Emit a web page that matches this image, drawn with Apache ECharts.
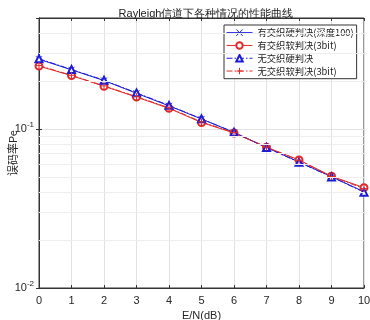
<!DOCTYPE html>
<html><head><meta charset="utf-8">
<script src="https://cdn.jsdelivr.net/npm/echarts@6/dist/echarts.min.js"></script>
<style>html,body{margin:0;padding:0;background:#fff}#c{width:370px;height:320px}</style>
</head><body><div id="c"></div>
<script>
var snr = [0,1,2,3,4,5,6,7,8,9,10];
var hardInter = [0.275,0.236,0.202,0.168,0.140,0.1157,0.0953,0.0766,0.0621,0.0502,0.0403];
var softInter = [0.249,0.217,0.186,0.159,0.135,0.110,0.0945,0.0768,0.0640,0.0505,0.0428];
var hardNo = [0.277,0.237,0.203,0.169,0.141,0.1160,0.0955,0.0765,0.0618,0.0500,0.0401];
var softNo = [0.251,0.218,0.187,0.160,0.136,0.111,0.0950,0.0770,0.0636,0.0503,0.0422];
var seriesNames = ['有交织硬判决(深度100)','有交织软判决(3bit)','无交织硬判决','无交织软判决(3bit)'];
var minorGrid = [0.02,0.03,0.04,0.05,0.06,0.07,0.08,0.09,0.2,0.3,0.4];
var yMin = 0.01, yMax = 0.5;

var BLUE = '#1c1cd6', RED = '#e02a2a';
var crossPath = 'path://M0,0L10,10M10,0L0,10';
var plusPath = 'path://M5,0L5,10M0,5L10,5';
var dashDot = [6,2,1.5,2];

function mk(name, data, color, symbol, dash, size){
  return {
    name: name, type: 'line', data: snr.map(function(x,i){return [x, data[i]];}),
    symbol: symbol, symbolSize: size, showSymbol: true,
    lineStyle: {color: color, width: 1, type: dash},
    itemStyle: {color: (symbol.indexOf('path')===0 ? 'rgba(0,0,0,0)' : color), borderColor: color, borderWidth: 1},
    emphasis: {disabled: true}, animation: false, z: 3
  };
}
var series = [
  mk(seriesNames[0], hardInter, BLUE, crossPath, 'solid', 6),
  mk(seriesNames[1], softInter, RED, 'emptyCircle', 'solid', 7),
  mk(seriesNames[2], hardNo, BLUE, 'emptyTriangle', dashDot, 7),
  mk(seriesNames[3], softNo, RED, plusPath, dashDot, 7)
];
series[0].markLine = {
  silent: true, symbol: 'none', label: {show: false}, animation: false,
  lineStyle: {color: '#eeeeee', type: 'solid', width: 1},
  data: minorGrid.map(function(v){return {yAxis: v};})
};

var chart = echarts.init(document.getElementById('c'), null, {renderer: 'canvas'});
var font = 'Liberation Sans, Arial, sans-serif';
var cjk = '"Noto Sans CJK SC", sans-serif';
chart.setOption({
  backgroundColor: '#fff',
  animation: false,
  title: {text: 'Rayleigh信道下各种情况的性能曲线', left: 201, top: 3, textAlign: 'center',
    textStyle: {fontSize: 11, fontWeight: 'normal', color: '#222', fontFamily: font}},
  grid: {left: 39, right: 6, top: 18, bottom: 32, show: true, borderColor: '#333', borderWidth: 1,
    backgroundColor: '#fff', containLabel: false, outerBoundsMode: 'none'},
  legend: {
    orient: 'vertical', left: 224, top: 25, data: seriesNames,
    itemWidth: 26, itemHeight: 8, itemGap: 3.5,
    padding: [3, 3, 3, 2],
    borderColor: '#333', borderWidth: 1, backgroundColor: '#fff',
    lineStyle: {width: 1},
    itemStyle: {borderWidth: 1},
    textStyle: {fontSize: 9.3, color: '#222', fontFamily: cjk}
  },
  xAxis: [{
    type: 'value', min: 0, max: 10, interval: 1,
    name: 'E/N(dB)', nameLocation: 'middle', nameGap: 19,
    nameTextStyle: {fontSize: 11, color: '#262626', fontFamily: font},
    axisLine: {show: true, lineStyle: {color: '#333'}},
    axisTick: {show: true, inside: true, length: 3, lineStyle: {color: '#333'}},
    axisLabel: {fontSize: 11, color: '#262626', margin: 7, fontFamily: font},
    splitLine: {show: true, lineStyle: {color: '#e2e2e2'}}
  },{
    type: 'value', min: 0, max: 10, interval: 1, position: 'top',
    axisLine: {show: true, lineStyle: {color: '#333'}},
    axisTick: {show: true, inside: true, length: 3, lineStyle: {color: '#333'}},
    axisLabel: {show: false}, splitLine: {show: false}
  }],
  yAxis: [{
    type: 'log', logBase: 10, min: yMin, max: yMax,
    name: '误码率Pe', nameLocation: 'middle', nameGap: 21, nameRotate: 90, nameMoveOverlap: false,
    nameTextStyle: {fontSize: 11, color: '#262626', fontFamily: cjk},
    axisLine: {show: true, lineStyle: {color: '#333'}},
    axisTick: {show: true, inside: true, length: 3, lineStyle: {color: '#333'}},
    axisLabel: {
      fontSize: 11, color: '#262626', margin: 5, fontFamily: font,
      formatter: function(v){
        var e = Math.log10(v); var r = Math.round(e);
        if (Math.abs(e - r) > 1e-6) return '';
        return '10{sup|' + r + '}';
      },
      rich: {sup: {fontSize: 8, verticalAlign: 'top', padding: [0,0,8,0], color: '#262626', fontFamily: font}}
    },
    splitLine: {show: true, lineStyle: {color: '#e2e2e2'}}
  },{
    type: 'log', logBase: 10, min: yMin, max: yMax, position: 'right',
    axisLine: {show: true, lineStyle: {color: '#333'}},
    axisTick: {show: true, inside: true, length: 3, lineStyle: {color: '#333'}},
    axisLabel: {show: false}, splitLine: {show: false}
  }],
  series: series
});
</script></body></html>
